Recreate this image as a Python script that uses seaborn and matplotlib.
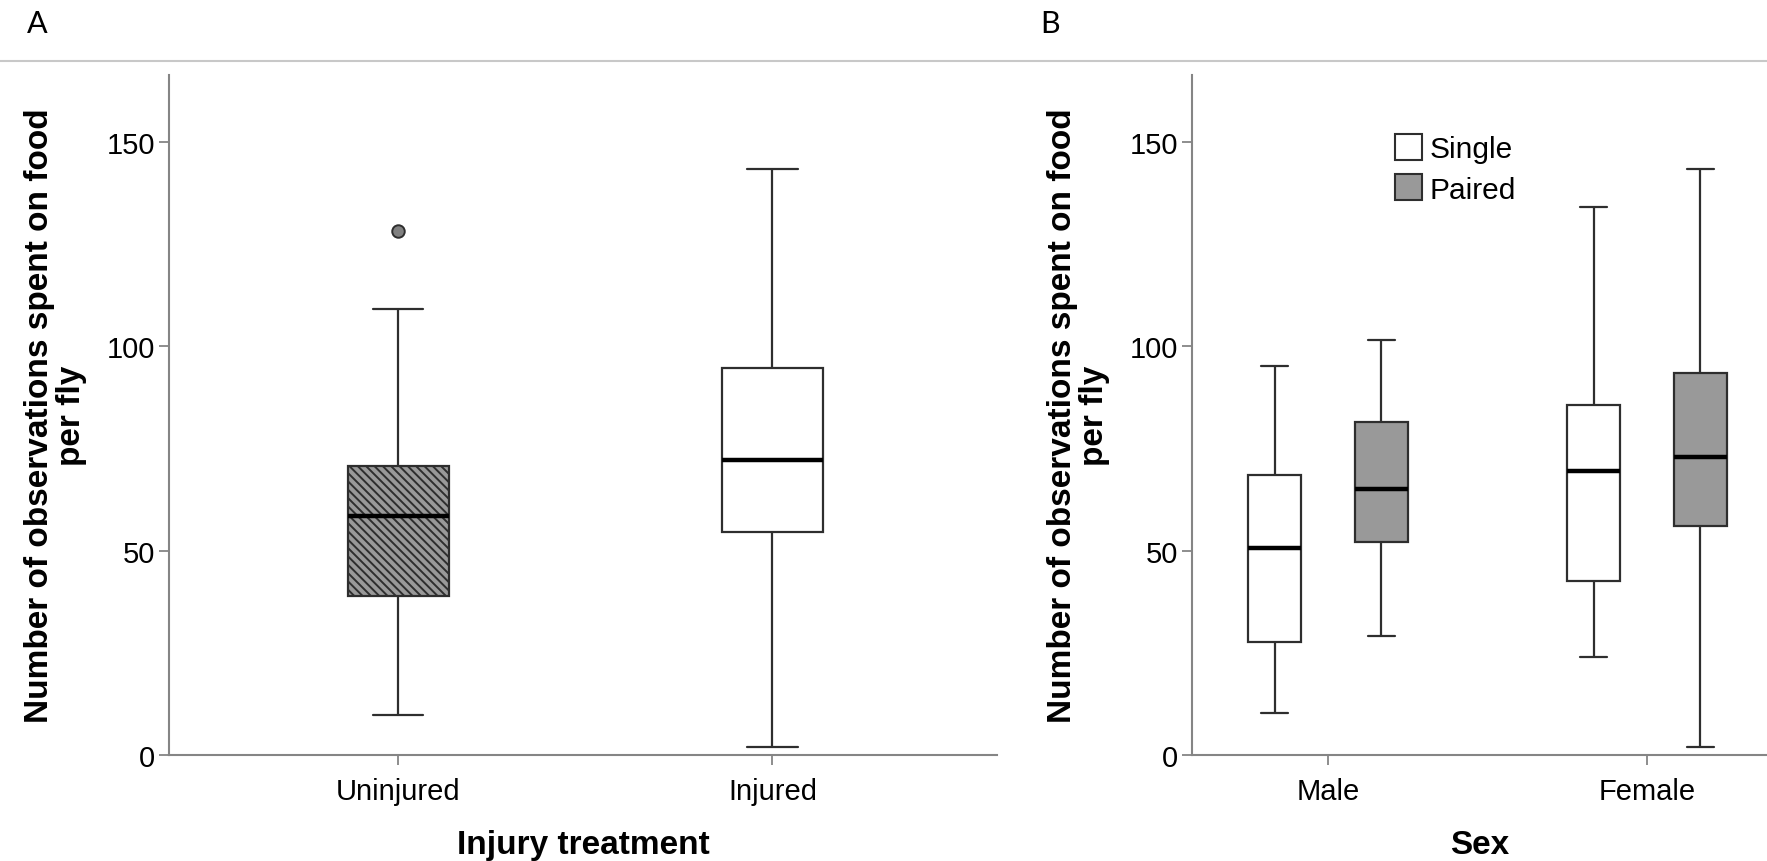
import numpy as np
import pandas as pd
import matplotlib
matplotlib.use("Agg")
import matplotlib.pyplot as plt
from matplotlib.lines import Line2D
from matplotlib.patches import Patch
import seaborn as sns

# ---- data: five-number summaries (lower whisker, Q1, median, Q3, upper whisker)
treatments = ["Uninjured", "Injured"]
treat_low = [9.9, 1.9]
treat_q1 = [38.9, 54.7]
treat_med = [58.6, 72.1]
treat_q3 = [70.7, 94.7]
treat_high = [109.2, 143.3]
outlier_treatment = ["Uninjured"]
outlier_value = [128.2]

sexes = ["Male", "Female"]
groups = ["Single", "Paired"]
# rows follow sexes, columns follow groups
sex_low = [[10.2, 29.1], [24.0, 1.9]]
sex_q1 = [[27.6, 52.1], [42.5, 56.0]]
sex_med = [[50.6, 65.1], [69.6, 73.0]]
sex_q3 = [[68.6, 81.6], [85.7, 93.5]]
sex_high = [[95.2, 101.5], [134.2, 143.3]]

y_ticks = [0, 50, 100, 150]
y_label = "Number of observations spent on food\nper fly"

# long-form tables; whiskers span min..max of each summary
rows_a = []
for i, t in enumerate(treatments):
    for v in (treat_low[i], treat_q1[i], treat_med[i], treat_q3[i], treat_high[i]):
        rows_a.append({"treatment": t, "obs": v})
df_a = pd.DataFrame(rows_a)

rows_b = []
for i, s in enumerate(sexes):
    for j, g in enumerate(groups):
        for v in (sex_low[i][j], sex_q1[i][j], sex_med[i][j], sex_q3[i][j], sex_high[i][j]):
            rows_b.append({"sex": s, "group": g, "obs": v})
df_b = pd.DataFrame(rows_b)
df_out = pd.DataFrame({"treatment": outlier_treatment, "obs": outlier_value})

# ---- style
sns.set_style("white")
plt.rcParams["font.family"] = ["Liberation Sans", "DejaVu Sans"]
plt.rcParams["text.color"] = "black"
plt.rcParams["axes.labelcolor"] = "black"
plt.rcParams["hatch.color"] = "#2a2a2a"
plt.rcParams["hatch.linewidth"] = 1.4

GREY = "#999999"
EDGE = "#2e2e2e"
SPINE = "#858585"
TICK_FS = 21
LABEL_FS = 24

W, H = 1767, 862
fig = plt.figure(figsize=(W / 100, H / 100), dpi=100)
ax_bottom = 1 - 756.2 / H
ax_height = (756.2 - 75.5) / H
axA = fig.add_axes([169 / W, ax_bottom, (997 - 169) / W, ax_height])
axB = fig.add_axes([1192 / W, ax_bottom, (1767 - 1192) / W, ax_height])

box_kw = dict(
    whis=(0, 100),
    linecolor=EDGE,
    linewidth=1.6,
    saturation=1,
    medianprops={"color": "black", "linewidth": 3.2},
    showfliers=False,
)

# panel A
sns.boxplot(data=df_a, x="treatment", y="obs", hue="treatment", order=treatments,
            hue_order=treatments, palette={"Uninjured": GREY, "Injured": "white"},
            width=0.27, legend=False, ax=axA, **box_kw)
sns.stripplot(data=df_out, x="treatment", y="obs", order=treatments, jitter=False,
              color="#808080", edgecolor="#2e2e2e", linewidth=1.4, size=9, ax=axA)

for p in axA.patches:
    ext = p.get_path().get_extents()
    if abs((ext.x0 + ext.x1) / 2) < 0.3:
        p.set_hatch("\\\\\\\\")
        p.set_edgecolor(EDGE)

# panel B
sns.boxplot(data=df_b, x="sex", y="obs", hue="group", order=sexes, hue_order=groups,
            palette={"Single": "white", "Paired": GREY}, width=0.668, gap=0.5,
            legend=False, ax=axB, **box_kw)

for ax, xlab, xlim in ((axA, "Injury treatment", (-0.612, 1.60)),
                       (axB, "Sex", (-0.426, 1.376))):
    ax.set_xlim(*xlim)
    ax.set_ylim(0, 166.5)
    ax.set_yticks(y_ticks)
    ax.set_yticklabels([str(t) for t in y_ticks])
    for side in ("top", "right"):
        ax.spines[side].set_visible(False)
    for side in ("left", "bottom"):
        ax.spines[side].set_color(SPINE)
        ax.spines[side].set_linewidth(1.5)
    ax.tick_params(axis="both", which="major", direction="out", length=7, width=1.3,
                   color=SPINE, labelsize=TICK_FS, labelcolor="black",
                   bottom=True, left=True)
    ax.tick_params(axis="y", pad=3)
    ax.tick_params(axis="x", pad=9)
    ax.set_xlabel(xlab, fontsize=LABEL_FS, fontweight="bold", labelpad=17,
                  color="black")
    ax.set_ylabel(y_label, fontsize=LABEL_FS, fontweight="bold", labelpad=14,
                  linespacing=1.05, color="black")

# legend for pairing
handles = [Patch(facecolor="white", edgecolor=EDGE, linewidth=1.5),
           Patch(facecolor=GREY, edgecolor=EDGE, linewidth=1.5)]
leg = axB.legend(handles, groups, loc="upper left",
                 bbox_to_anchor=(1395 / W, 1 - 135 / H),
                 bbox_transform=fig.transFigure, frameon=False, fontsize=TICK_FS + 0.5,
                 handlelength=0.9, handleheight=0.95, handletextpad=0.25,
                 labelspacing=0.38, borderpad=0, borderaxespad=0)
for t in leg.get_texts():
    t.set_color("black")

# panel letters and separator rule
fig.add_artist(Line2D([0, 1], [1 - 62 / H] * 2, transform=fig.transFigure,
                      color="#c8c8c8", linewidth=1.5))
fig.text(27 / W, 1 - 24 / H, "A", fontsize=22, family=["Lato", "DejaVu Sans"],
         ha="left", va="center", color="black")
fig.text(1040 / W, 1 - 24 / H, "B", fontsize=22, family=["Lato", "DejaVu Sans"],
         ha="left", va="center", color="black")

fig.savefig("out.png", dpi=100, facecolor="white")
